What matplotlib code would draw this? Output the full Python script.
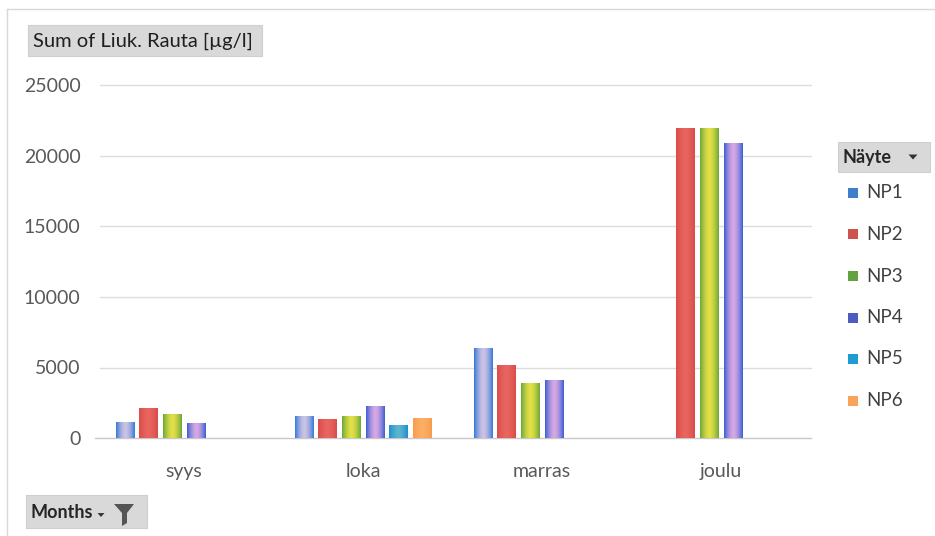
import numpy as np
import matplotlib
matplotlib.use("Agg")
import matplotlib.pyplot as plt
from matplotlib.patches import Rectangle, Polygon
from matplotlib.colors import to_rgb

# --- data -------------------------------------------------------------
months = ["syys", "loka", "marras", "joulu"]
samples = ["NP1", "NP2", "NP3", "NP4", "NP5", "NP6"]
np1 = [1150, 1550, 6350, np.nan]
np2 = [2100, 1350, 5150, 22000]
np3 = [1700, 1550, 3900, 22000]
np4 = [1050, 2300, 4100, 20900]
np5 = [np.nan, 900, np.nan, np.nan]
np6 = [np.nan, 1420, np.nan, np.nan]
yticks = [0, 5000, 10000, 15000, 20000, 25000]
series = [np1, np2, np3, np4, np5, np6]

# legend swatch colours and bar gradient colours (edge -> centre)
legend_colors = ["#3f7fc9", "#cc5350", "#62a23f", "#4c5cc0", "#1e9bd2", "#f8a457"]
edge_colors = ["#3579d8", "#d94c48", "#6aa838", "#3a5ed4", "#1c8bd6", "#f89a4c"]
center_colors = ["#cdc3e3", "#e86560", "#e3e048", "#d6a8e4", "#5cb4cc", "#fcae66"]

W, H = 935, 536
plt.rcParams["font.family"] = ["Lato", "DejaVu Sans"]

fig = plt.figure(figsize=(W / 100, H / 100), dpi=100)
fig.patch.set_facecolor("white")


def fx(x):
    return x / W


def fy(y):
    return 1 - y / H


# plot area
left, right, top, bottom = 94.5, 810.5, 85.5, 438.0
ax = fig.add_axes([fx(left), fy(bottom), (right - left) / W, (bottom - top) / H])
ax.set_xlim(-0.5, len(months) - 0.5)
ax.set_ylim(0, 25000)

slot = 0.1324
bar_w = 0.102
x = np.arange(len(months))


def gradient_image(edge, center, n=64):
    e = np.array(to_rgb(edge))
    c = np.array(to_rgb(center))
    t = np.abs(np.linspace(-1, 1, n)) ** 1.6
    row = c[None, :] * (1 - t[:, None]) + e[None, :] * t[:, None]
    return row[None, :, :]


for i, vals in enumerate(series):
    offs = (i - 2.5) * slot
    bars = ax.bar(x + offs, vals, width=bar_w, color=edge_colors[i],
                  linewidth=0, zorder=3)
    img = gradient_image(edge_colors[i], center_colors[i])
    for b in bars:
        h = b.get_height()
        if not np.isfinite(h) or h <= 0:
            continue
        x0 = b.get_x()
        im = ax.imshow(img, extent=[x0, x0 + b.get_width(), 0, h],
                       aspect="auto", zorder=4, interpolation="bilinear")
        im.set_clip_path(b)

ax.set_xlim(-0.5, len(months) - 0.5)
ax.set_ylim(0, 25000)

# gridlines and axis
ax.set_yticks(yticks)
ax.set_yticklabels([str(v) for v in yticks])
for v in yticks[1:]:
    ax.axhline(v, xmin=(100 - left) / (right - left), color="#dcdcdc",
               linewidth=1.0, zorder=1, clip_on=False)
for s in ["top", "right", "left"]:
    ax.spines[s].set_visible(False)
ax.spines["bottom"].set_color("#c8c8c8")
ax.spines["bottom"].set_linewidth(1.0)
ax.set_xticks(x)
ax.set_xticklabels(months)
ax.tick_params(axis="y", length=0, pad=10, labelsize=14, labelcolor="#595959")
ax.tick_params(axis="x", length=0, pad=18, labelsize=14, labelcolor="#595959")
ax.set_facecolor("none")

# chart frame
fig.add_artist(plt.Line2D([fx(7), fx(7)], [fy(9), fy(H)], color="#d8d8d8", lw=1))
fig.add_artist(plt.Line2D([fx(7), fx(W)], [fy(9), fy(9)], color="#d8d8d8", lw=1))


def field_button(x0, y0, x1, y1):
    fig.add_artist(Rectangle((fx(x0), fy(y1)), (x1 - x0) / W, (y1 - y0) / H,
                             facecolor="#d9d9d9", edgecolor="#cfcfcf", lw=0.8))


def dropdown(cx, cy, s=4.5):
    fig.add_artist(Polygon([(fx(cx - s), fy(cy - s * 0.55)),
                            (fx(cx + s), fy(cy - s * 0.55)),
                            (fx(cx), fy(cy + s * 0.55))],
                           closed=True, facecolor="#333333", edgecolor="none"))


# value field button
field_button(28, 25, 262, 56)
fig.text(fx(33), fy(41), "Sum of Liuk. Rauta [µg/l]", fontsize=14.5,
         color="#1f1f1f", va="center", ha="left")

# axis field button
field_button(26, 495, 147, 528)
fig.text(fx(31), fy(512), "Months", fontsize=13, fontweight="bold",
         color="#262626", va="center", ha="left")
dropdown(101, 515, 3.5)
fig.add_artist(Polygon([(fx(114), fy(504)), (fx(134), fy(504)),
                        (fx(127), fy(513)), (fx(127), fy(523)),
                        (fx(122), fy(526)), (fx(122), fy(513))],
                       closed=True, facecolor="#555555", edgecolor="none"))

# legend field button
field_button(838, 142, 930, 172)
fig.text(fx(843), fy(157), "Näyte", fontsize=13, fontweight="bold",
         color="#262626", va="center", ha="left")
dropdown(913, 157, 4.5)

# legend entries
leg_y = [193, 234.5, 276, 317.5, 359, 400.5]
for name, col, ly in zip(samples, legend_colors, leg_y):
    fig.add_artist(Rectangle((fx(848), fy(ly + 5)), 10 / W, 10 / H,
                             facecolor=col, edgecolor="none"))
    fig.text(fx(866), fy(ly), name, fontsize=13.5, color="#404040",
             va="center", ha="left")

fig.savefig("out.png", dpi=100, facecolor="white")
